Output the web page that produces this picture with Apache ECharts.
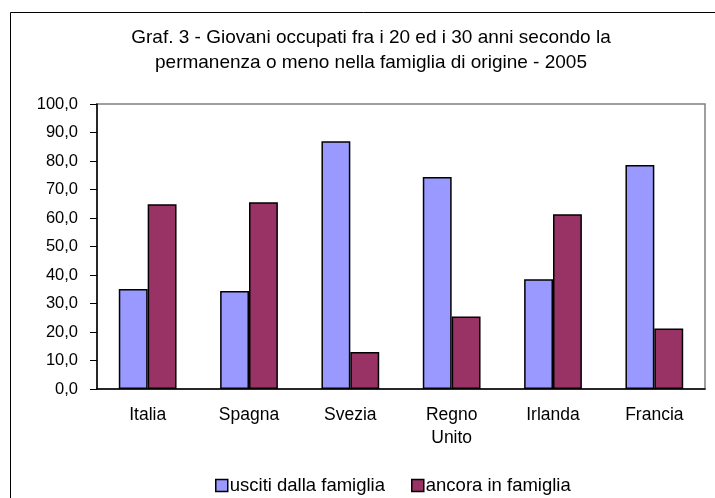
<!DOCTYPE html>
<html>
<head>
<meta charset="utf-8">
<script src="https://cdn.jsdelivr.net/npm/echarts@6/dist/echarts.min.js"></script>
<style>
html,body{margin:0;padding:0;background:#fff;}
#main{width:715px;height:498px;}
</style>
</head>
<body>
<div id="main"></div>
<script>
var paesi = ['Italia', 'Spagna', 'Svezia', 'Regno\nUnito', 'Irlanda', 'Francia'];
var usciti = [35.1, 34.4, 86.9, 74.4, 38.5, 78.6];
var ancora = [64.8, 65.5, 13.0, 25.4, 61.3, 21.2];
var nomiSerie = ['usciti dalla famiglia', 'ancora in famiglia'];

var myChart = echarts.init(document.getElementById('main'));
var fontBase = 'Liberation Sans, Arial, sans-serif';

option = {
    animation: false,
    backgroundColor: '#fff',
    textStyle: { fontFamily: fontBase },
    title: {
        text: 'Graf. 3 - Giovani occupati fra i 20 ed i 30 anni secondo la\npermanenza o meno nella famiglia di origine - 2005',
        left: 366,
        top: 20,
        textAlign: 'center',
        textStyle: {
            fontSize: 19,
            fontWeight: 'normal',
            color: '#000',
            lineHeight: 25,
            fontFamily: fontBase
        }
    },
    // cornice esterna: si vedono solo bordo sinistro e superiore
    graphic: [{
        type: 'rect',
        shape: { x: 10.5, y: 12.5, width: 800, height: 600 },
        style: { fill: 'none', stroke: '#000', lineWidth: 1 },
        silent: true
    }],
    legend: {
        data: nomiSerie,
        left: 210,
        bottom: -2,
        icon: 'rect',
        itemWidth: 12,
        itemHeight: 12,
        itemGap: 26,
        itemStyle: { borderColor: '#000', borderWidth: 1.5 },
        textStyle: { fontSize: 18.5, color: '#000', padding: [0, 0, 0, -3] }
    },
    grid: {
        left: 97,
        right: 10,
        top: 104,
        bottom: 109,
        show: true,
        borderColor: '#808080',
        borderWidth: 1.5
    },
    xAxis: {
        type: 'category',
        data: paesi,
        axisLine: { lineStyle: { color: '#000', width: 1.5 } },
        axisTick: { length: 5, lineStyle: { color: '#000' } },
        axisLabel: { fontSize: 17.5, color: '#000', margin: 15, lineHeight: 23 }
    },
    yAxis: {
        type: 'value',
        min: 0,
        max: 100,
        interval: 10,
        splitLine: { show: false },
        axisLine: { show: true, lineStyle: { color: '#000', width: 1.5 } },
        axisTick: { show: true, length: 7, lineStyle: { color: '#000' } },
        axisLabel: {
            fontSize: 16.5,
            color: '#000',
            margin: 19,
            formatter: function (v) {
                return v.toFixed(1).replace('.', ',');
            }
        }
    },
    series: [{
        name: nomiSerie[0],
        type: 'bar',
        data: usciti,
        barGap: '0%',
        barCategoryGap: '43%',
        itemStyle: { color: '#9999FF', borderColor: '#000', borderWidth: 1.5 }
    }, {
        name: nomiSerie[1],
        type: 'bar',
        data: ancora,
        itemStyle: { color: '#993366', borderColor: '#000', borderWidth: 1.5 }
    }]
};
myChart.setOption(option);
window.addEventListener("resize", function () {
    myChart.resize();
});
</script>
</body>
</html>
